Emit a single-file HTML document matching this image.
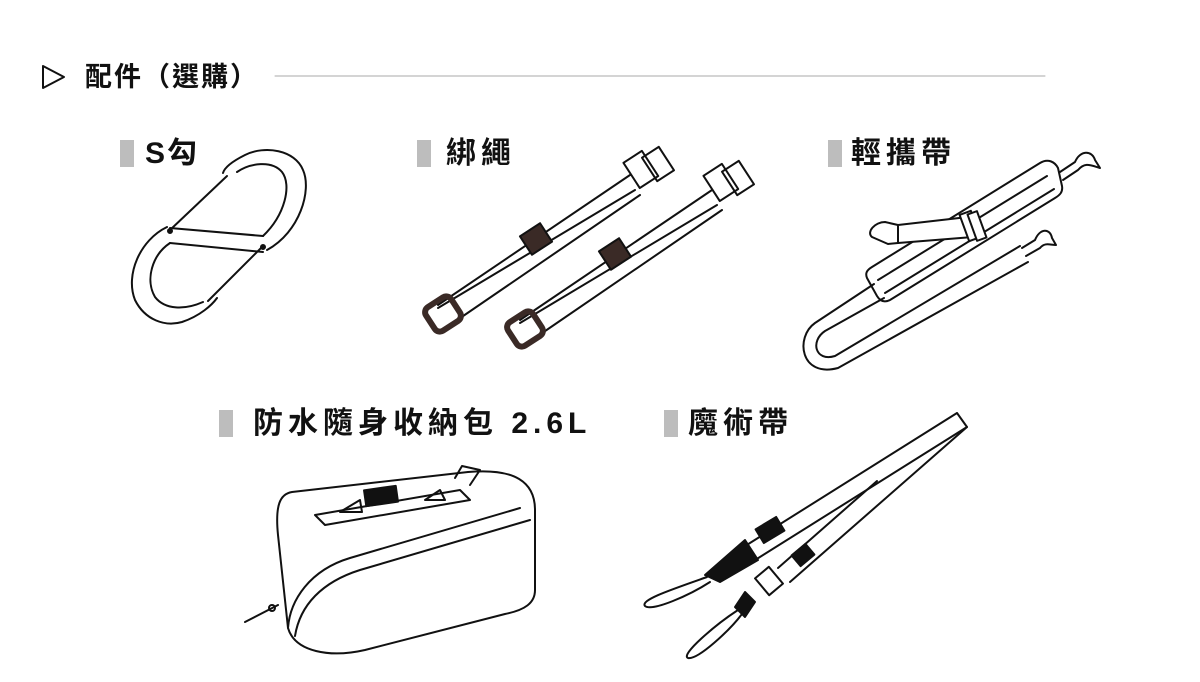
<!DOCTYPE html>
<html><head><meta charset="utf-8"><style>
body{margin:0;background:#fff;width:1200px;height:682px;overflow:hidden;position:relative;font-family:"Liberation Sans","Noto Sans CJK TC",sans-serif}
.t{position:absolute;font-weight:bold;color:#111;font-size:30px;line-height:30px;white-space:nowrap;letter-spacing:5px}
.sq{position:absolute;width:14px;height:27px;background:#bdbdbd}
</style></head><body>
<svg width="1200" height="682" style="position:absolute;left:0;top:0" fill="none" stroke="#111" stroke-width="2" stroke-linejoin="round" stroke-linecap="round">
<polygon points="43,66 43,88 64,77" stroke-width="2"/>
<line x1="275" y1="76" x2="1045" y2="76" stroke="#aaa" stroke-width="1"/>
<!-- S hook -->
<path d="M267,250 C300,232 312,190 303,170 C295,150 265,145 245,155 C235,160 225,166 223,173"/>
<path d="M263,236 C285,215 292,185 282,172 C272,160 250,163 237,172"/>
<path d="M167,227 C140,240 125,275 135,300 C145,320 165,327 182,322 C200,316 212,305 217,298"/>
<path d="M170,243 C152,255 145,280 155,297 C165,310 185,310 203,302"/>
<path d="M170,228 L263,236 M170,243 L263,252"/>
<line x1="170" y1="230" x2="227" y2="176"/><line x1="263" y1="246" x2="208" y2="301"/>
<circle cx="170" cy="231" r="2" fill="#111"/><circle cx="263" cy="247" r="2" fill="#111"/>
<!-- straps -->
<g>
<path d="M438,305 L630,175 M450,325 L640,195 M438,308 L635,190"/>
<rect x="630" y="155" width="22" height="30" transform="rotate(-33 640 170)"/>
<rect x="648" y="150" width="20" height="28" transform="rotate(-33 658 164)"/>
<rect x="524" y="228" width="24" height="22" fill="#3a2a26" transform="rotate(-33 536 239)"/>
<rect x="428" y="300" width="30" height="28" rx="6" stroke="#3a2a26" stroke-width="6" transform="rotate(-33 443 314)"/>
<path d="M520,320 L712,190 M532,340 L722,210 M520,323 L717,205"/>
<rect x="710" y="168" width="22" height="30" transform="rotate(-33 720 183)"/>
<rect x="728" y="164" width="20" height="28" transform="rotate(-33 738 178)"/>
<rect x="603" y="243" width="24" height="22" fill="#3a2a26" transform="rotate(-33 615 254)"/>
<rect x="510" y="315" width="30" height="28" rx="6" stroke="#3a2a26" stroke-width="6" transform="rotate(-33 525 329)"/>
</g>
<!-- shoulder strap -->
<path d="M874,284 L815,323 C795,337 800,378 838,368 L1028,262"/>
<path d="M884,298 L825,331 C810,341 815,362 835,356 L1020,246"/>
<path d="M872,267 L1040,163 C1048,158 1055,162 1058,168 L1062,186 C1063,192 1060,195 1055,198 L890,300 C884,303 880,301 877,296 L867,278 C865,273 867,270 872,267 Z"/>
<path d="M878,280 L1047,176 M885,293 L1054,189"/>
<path d="M1060,172 L1075,162 M1063,180 L1078,170 M1075,162 C1080,150 1092,150 1095,160 L1100,168 M1078,170 C1085,162 1090,165 1100,168"/>
<path d="M1022,248 L1035,240 M1026,256 L1040,248 M1035,240 C1040,228 1050,228 1052,238 L1056,245 M1040,248 C1045,242 1050,245 1056,245"/>
<path d="M898,225 L968,217 L973,237 L898,243 Z" fill="#fff"/>
<path d="M898,225 L885,222 C875,222 866,232 872,237 L888,244 L898,243"/>
<rect x="964" y="212" width="12" height="28" fill="#fff" transform="rotate(-20 970 226)"/>
<rect x="972" y="212" width="10" height="28" fill="#fff" transform="rotate(-20 977 226)"/>
<!-- pouch -->
<path d="M292,492 L468,472 C515,468 535,482 535,510 L535,590 C535,603 525,610 505,614 L365,650 C330,658 295,652 288,628 L278,535 C275,505 280,494 292,492 Z"/>
<path d="M288,628 C290,600 310,570 350,558 L520,508"/>
<path d="M295,636 C300,605 322,582 360,570 L530,520"/>
<path d="M315,515 L460,490 L470,500 L325,525 Z"/>
<path d="M340,512 L360,500 L362,512 Z M425,500 L440,490 L445,500 Z"/>
<rect x="365" y="488" width="32" height="16" fill="#111" transform="rotate(-8 381 496)"/>
<path d="M455,478 L462,466 L480,470 L470,485"/>
<path d="M245,622 L278,605"/><circle cx="272" cy="608" r="3"/>
<!-- velcro strap -->
<path d="M957,413 L742,548 M967,427 L752,562 M957,413 L967,427"/>
<path d="M877,481 L778,568 M967,427 L790,582"/>
<rect x="758" y="522" width="24" height="16" fill="#111" transform="rotate(-31 770 530)"/>
<rect x="794" y="548" width="18" height="14" fill="#111" transform="rotate(-40 803 555)"/>
<path d="M745,540 L758,560 L720,582 L705,575 Z" fill="#111"/>
<rect x="760" y="570" width="18" height="22" fill="#fff" transform="rotate(-40 769 581)"/>
<path d="M745,592 L755,602 L745,617 L735,607 Z" fill="#111"/>
<path d="M707,577 C670,590 640,600 645,606 C652,612 690,595 710,582"/>
<path d="M738,610 C715,625 680,655 688,658 C698,660 730,630 742,614"/>
</svg>
<div class="t" style="left:85px;top:62px;font-size:27px;letter-spacing:2px">配件（選購）</div>
<div class="sq" style="left:120px;top:140px"></div><div class="t" style="left:145px;top:139px;letter-spacing:2px">S勾</div>
<div class="sq" style="left:417px;top:140px"></div><div class="t" style="left:446px;top:139px">綁繩</div>
<div class="sq" style="left:828px;top:140px"></div><div class="t" style="left:851px;top:139px">輕攜帶</div>
<div class="sq" style="left:219px;top:410px"></div><div class="t" style="left:253px;top:409px">防水隨身收納包 2.6L</div>
<div class="sq" style="left:664px;top:410px"></div><div class="t" style="left:688px;top:409px">魔術帶</div>
</body></html>
